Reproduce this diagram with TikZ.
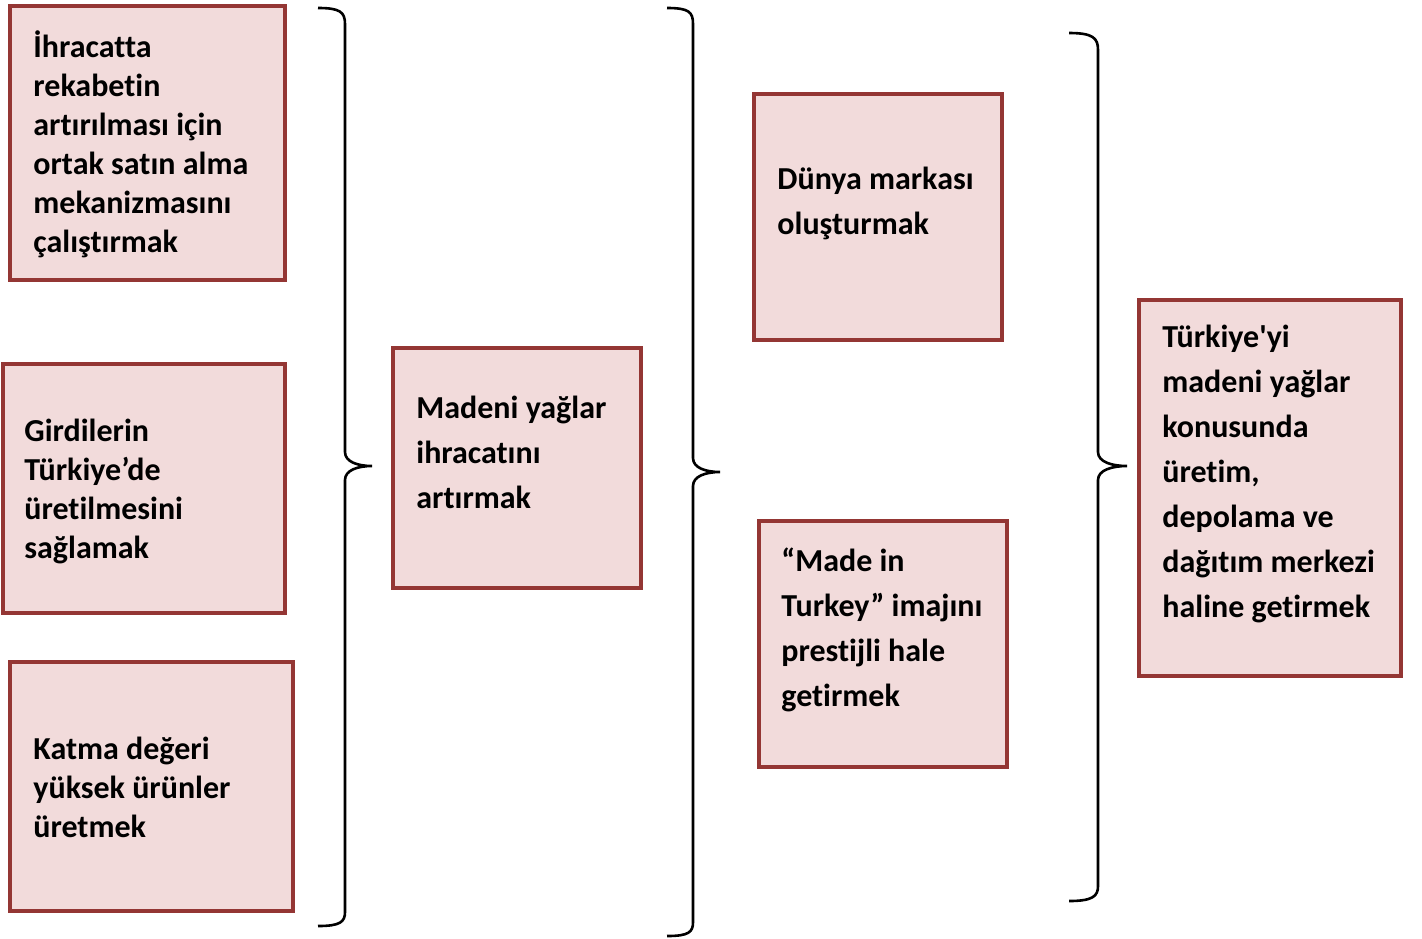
\documentclass[tikz,border=0pt]{standalone}
\usepackage{fontspec}
\setmainfont{Carlito}[Ligatures={TeXOff,NoCommon}]
\definecolor{kenar}{HTML}{943634}
\definecolor{dolgu}{HTML}{F2DBDB}
\tikzset{
  kutu/.style={draw=kenar,fill=dolgu,line width=2.4pt},
  yazi/.style={anchor=base west,align=left,inner sep=0pt,font=\fontsize{16}{22.5}\selectfont\bfseries},
  sik/.style={font=\fontsize{16}{19.5}\selectfont\bfseries},
  kume/.style={line width=1.3pt,black}
}

\begin{document}
\begin{tikzpicture}[x=0.5pt,y=-0.5pt]
\useasboundingbox (0,0) rectangle (1422,938);

% kutular
\draw[kutu] (10,6) rectangle (285,280);
\draw[kutu] (3,364) rectangle (285,613);
\draw[kutu] (10,662) rectangle (293,911);
\draw[kutu] (393,348) rectangle (641,588);
\draw[kutu] (754,94) rectangle (1002,340);
\draw[kutu] (759,521) rectangle (1007,767);
\draw[kutu] (1139,300) rectangle (1401,676);

% yazilar (son satirin taban cizgisine gore)
\node[yazi,sik] (ihracat) at (33,252)
  {İhracatta\\rekabetin\\artırılması için\\ortak satın alma\\mekanizmasını\\çalıştırmak};
\node[yazi,sik] (girdi) at (24,558)
  {Girdilerin\\Türkiye’de\\üretilmesini\\sağlamak};
\node[yazi,sik] (katma) at (33,837)
  {Katma değeri\\yüksek ürünler\\üretmek};
\node[yazi] (madeni) at (416,508) {Madeni yağlar\\ihracatını\\artırmak};
\node[yazi] (dunya) at (777,234) {Dünya markası\\oluşturmak};
\node[yazi] (made) at (781,706) {“Made in\\Turkey” imajını\\prestijli hale\\getirmek};
\node[yazi] (turkiye) at (1162,617)
  {Türkiye'yi\\madeni yağlar\\konusunda\\üretim,\\depolama ve\\dağıtım merkezi\\haline getirmek};

% parantezler
\draw[kume] (318,8) .. controls (340,8) and (345,12) .. (345,24) -- (345,452)
  .. controls (345,462) and (358,466) .. (372,466)
  .. controls (358,466) and (345,470) .. (345,480) -- (345,912)
  .. controls (345,922) and (340,926) .. (318,926);
\draw[kume] (667,8) .. controls (689,8) and (693,12) .. (693,24) -- (693,458)
  .. controls (693,468) and (706,472) .. (720,472)
  .. controls (706,472) and (693,476) .. (693,486) -- (693,922)
  .. controls (693,932) and (689,936) .. (667,936);
\draw[kume] (1069,33) .. controls (1093,33) and (1098,38) .. (1098,50) -- (1098,452)
  .. controls (1098,462) and (1112,466) .. (1127,466)
  .. controls (1112,466) and (1098,470) .. (1098,480) -- (1098,886)
  .. controls (1098,896) and (1093,901) .. (1069,901);
\end{tikzpicture}
\end{document}
